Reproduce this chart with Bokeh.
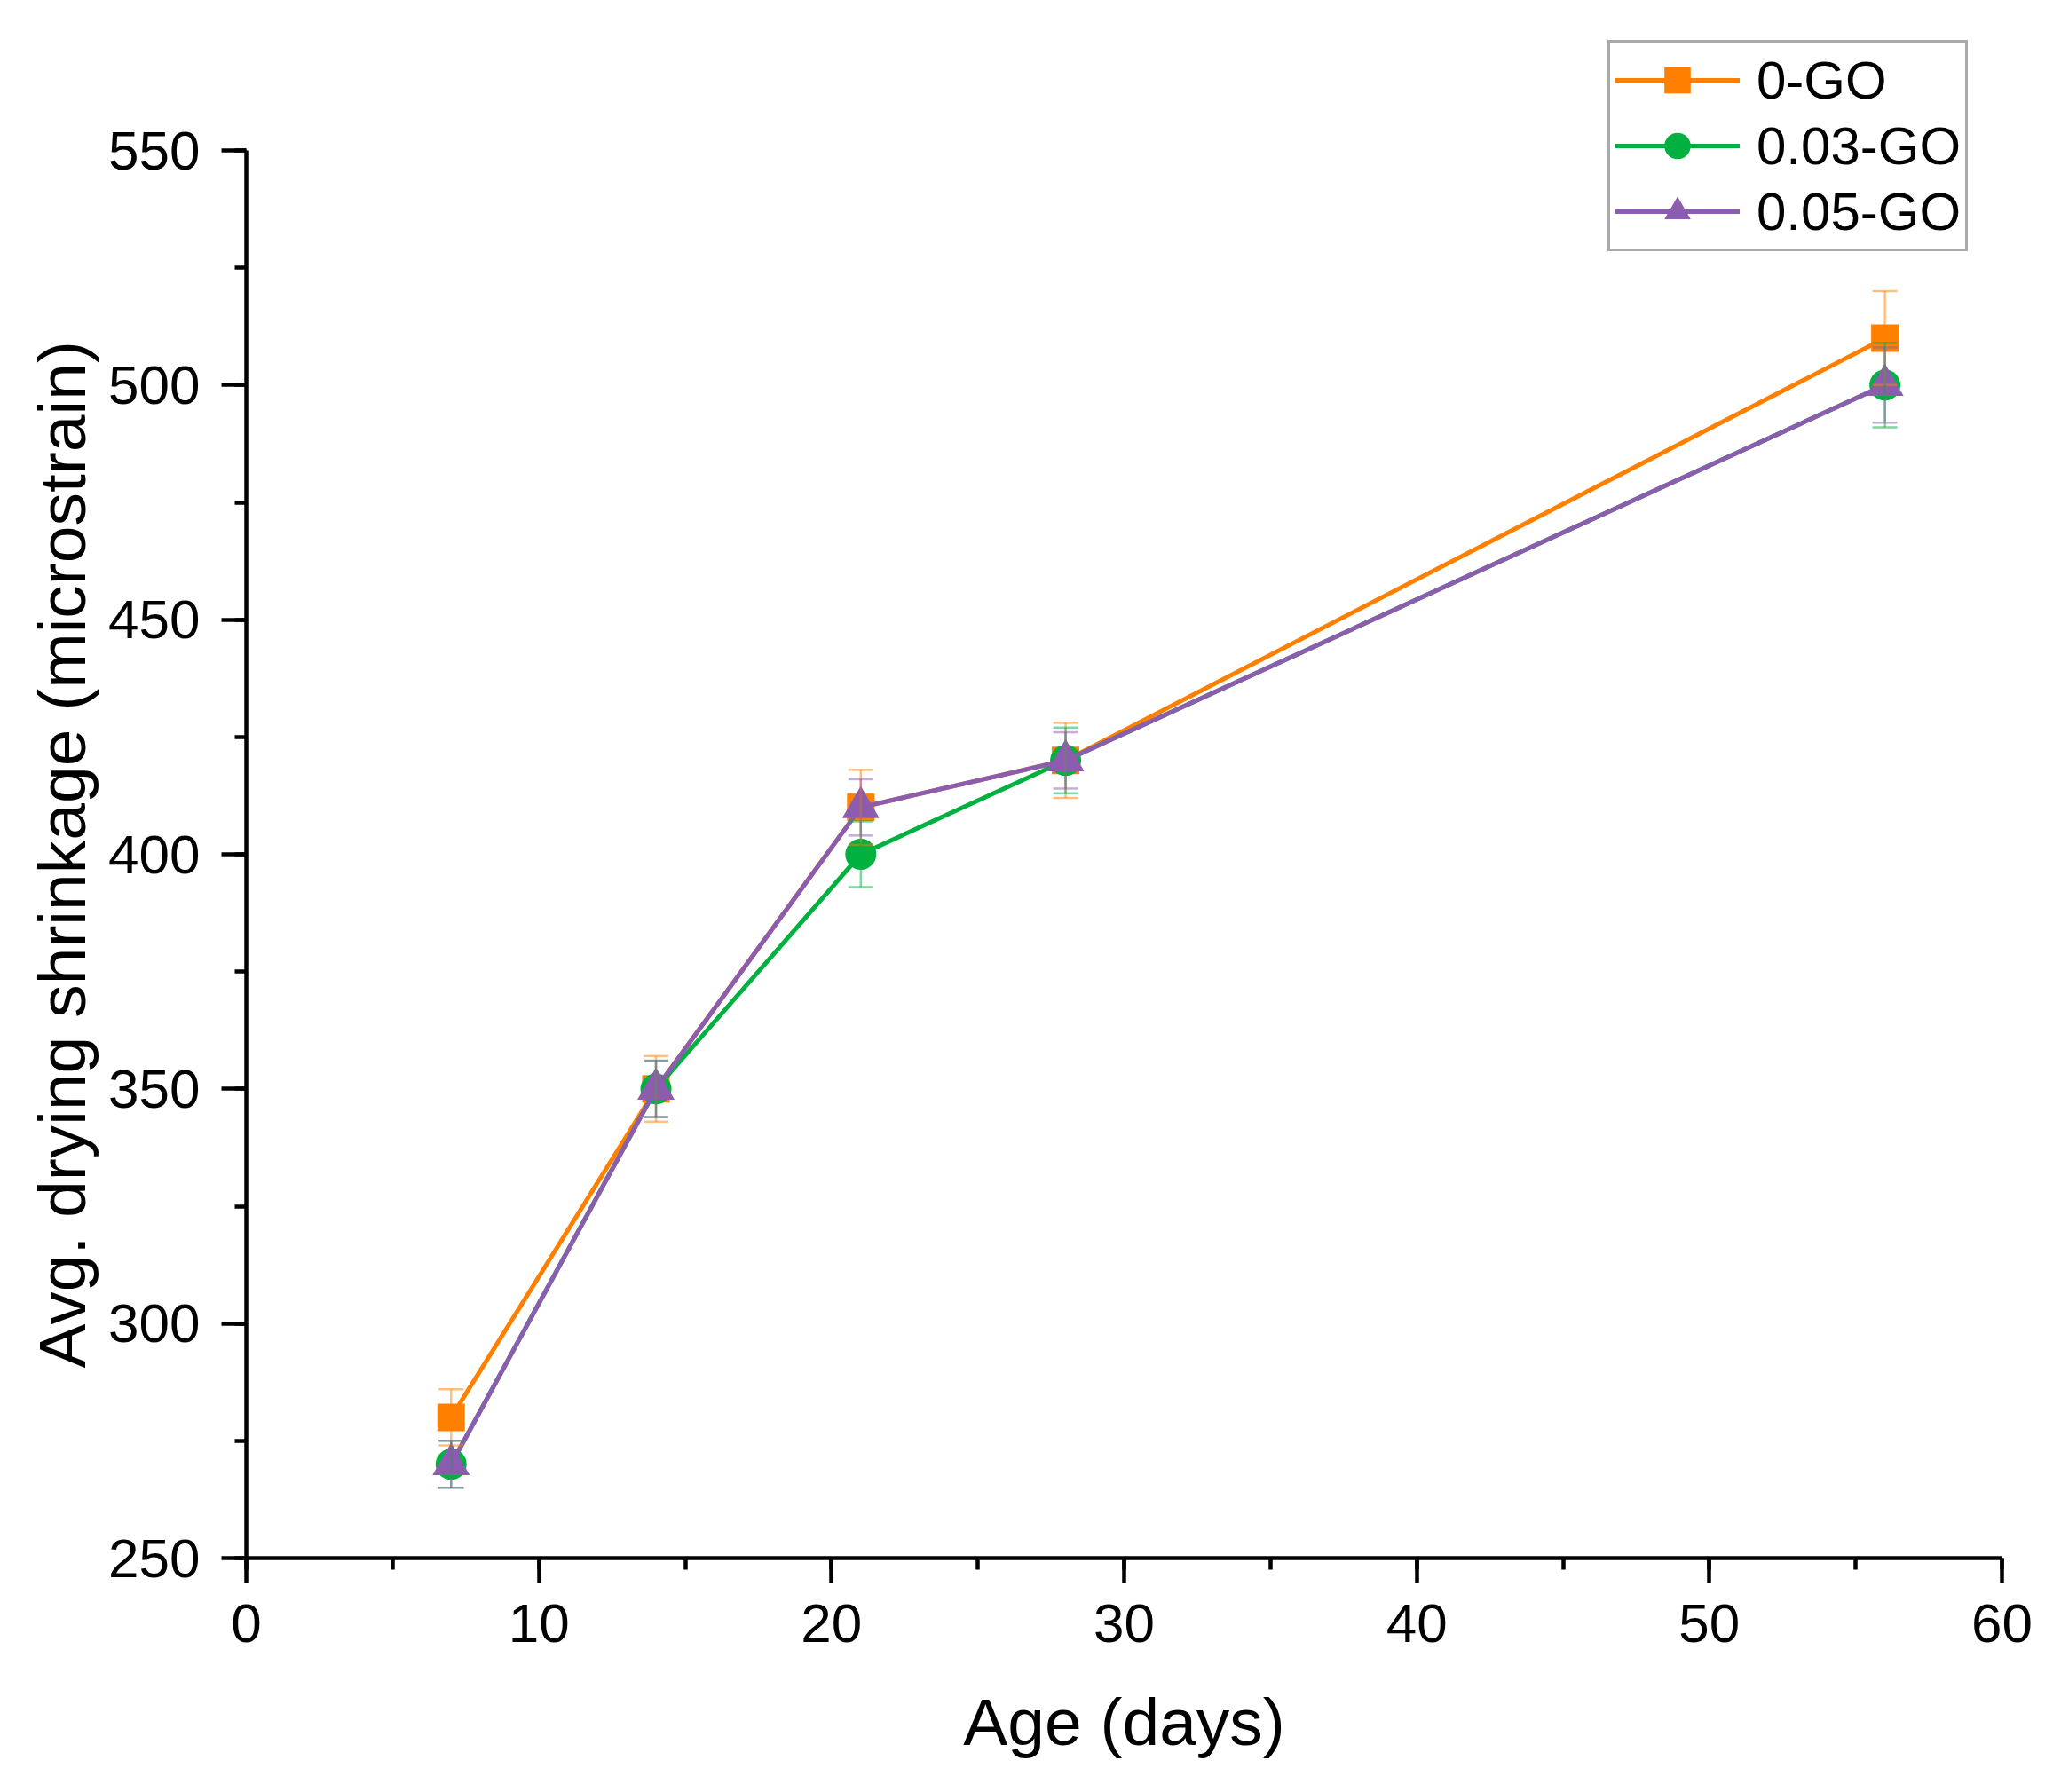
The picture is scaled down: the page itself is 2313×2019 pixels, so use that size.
from bokeh.plotting import figure
from bokeh.models import (ColumnDataSource, Whisker, TeeHead, Legend, LegendItem,
                          Range1d, SingleIntervalTicker, Title)
from bokeh.embed import file_html
from bokeh.resources import INLINE

# ---- data ----
days = [7, 14, 21, 28, 56]
go0 = [280, 350, 410, 420, 510]
go0_err = [6, 7, 8, 8, 10]
go003 = [270, 350, 400, 420, 500]
go003_err = [5, 6, 7, 7, 9]
go005 = [270, 350, 410, 420, 500]
go005_err = [5, 6, 6, 6, 8]
series_labels = ["0-GO", "0.03-GO", "0.05-GO"]
x_ticks = [0, 10, 20, 30, 40, 50, 60]
y_ticks = [250, 300, 350, 400, 450, 500, 550]
x_title = "Age (days)"
y_title = "Avg. drying shrinkage (microstrain)"

colors = ["#FF8000", "#00B140", "#8C5CAE"]
markers = ["square", "circle", "triangle"]
sizes = [31, 35, 42]
FONT = "Liberation Sans"

# layout (screen px)
AXIS_H = 1586            # pixel height of the 250..550 axis
TOP_PAD = 139            # extra frame room above 550 so the legend is not clipped
frame_h = AXIS_H + TOP_PAD
y_end = y_ticks[0] + frame_h * (y_ticks[-1] - y_ticks[0]) / AXIS_H

p = figure(frame_width=1978, frame_height=frame_h,
           x_range=Range1d(x_ticks[0], x_ticks[-1]),
           y_range=Range1d(y_ticks[0], y_end),
           output_backend="svg", toolbar_location=None,
           min_border_left=277, min_border_right=42,
           min_border_top=30, min_border_bottom=240,
           x_axis_label=x_title)
p.background_fill_color = "white"
p.border_fill_color = "white"
p.outline_line_color = None
p.grid.visible = False

p.xaxis.ticker = SingleIntervalTicker(interval=10, num_minor_ticks=2)
p.yaxis.ticker = SingleIntervalTicker(interval=50, num_minor_ticks=2)
p.yaxis.bounds = (y_ticks[0], y_ticks[-1])

for ax in (p.xaxis[0], p.yaxis[0]):
    ax.axis_line_width = 4.5
    ax.axis_line_color = "black"
    ax.major_tick_line_width = 4.5
    ax.minor_tick_line_width = 4.5
    ax.major_tick_line_color = "black"
    ax.minor_tick_line_color = "black"
    ax.major_tick_out = 28
    ax.major_tick_in = 0
    ax.minor_tick_out = 13
    ax.minor_tick_in = 0
    ax.major_label_text_font = FONT
    ax.major_label_text_font_size = "62px"
    ax.major_label_text_color = "black"
    ax.axis_label_text_font = FONT
    ax.axis_label_text_font_size = "75px"
    ax.axis_label_text_font_style = "normal"
    ax.axis_label_text_color = "black"

p.xaxis.major_label_standoff = 24
p.xaxis.axis_label_standoff = 45
p.yaxis.major_label_standoff = 24

# y-axis title, placed along the 250..550 span (not the whole frame)
ytitle = Title(text=y_title, align="left", offset=214,
               text_font=FONT, text_font_size="75px", text_font_style="normal",
               text_color="black", standoff=15)
p.add_layout(ytitle, "left")

all_vals = [go0, go003, go005]
all_errs = [go0_err, go003_err, go005_err]

items = []
whiskers = []
for vals, errs, lab, c, m, s in zip(all_vals, all_errs, series_labels, colors, markers, sizes):
    src = ColumnDataSource(dict(x=days, y=vals,
                                upper=[v + e for v, e in zip(vals, errs)],
                                lower=[v - e for v, e in zip(vals, errs)]))
    rl = p.line("x", "y", source=src, line_color=c, line_width=5)
    rm = p.scatter("x", "y", source=src, marker=m, size=s,
                   fill_color=c, line_color=c, line_width=0)
    w = Whisker(base="x", upper="upper", lower="lower", source=src,
                line_color=c, line_alpha=0.5, line_width=2.5, level="annotation",
                upper_head=TeeHead(size=28, line_color=c, line_alpha=0.5, line_width=2.5),
                lower_head=TeeHead(size=28, line_color=c, line_alpha=0.5, line_width=2.5))
    whiskers.append(w)
    items.append(LegendItem(label=lab, renderers=[rl, rm]))

for w in whiskers:
    p.add_layout(w)

legend = Legend(items=items, location=(1534, 1472), orientation="vertical",
                glyph_width=141, glyph_height=74, label_height=64,
                spacing=0, padding=5, margin=0, label_standoff=19,
                label_text_font=FONT, label_text_font_size="60px",
                label_text_color="black",
                border_line_color="#555555", border_line_width=3,
                background_fill_color="white", background_fill_alpha=1.0)
p.add_layout(legend)

open("out.html", "w").write(file_html(p, INLINE))
